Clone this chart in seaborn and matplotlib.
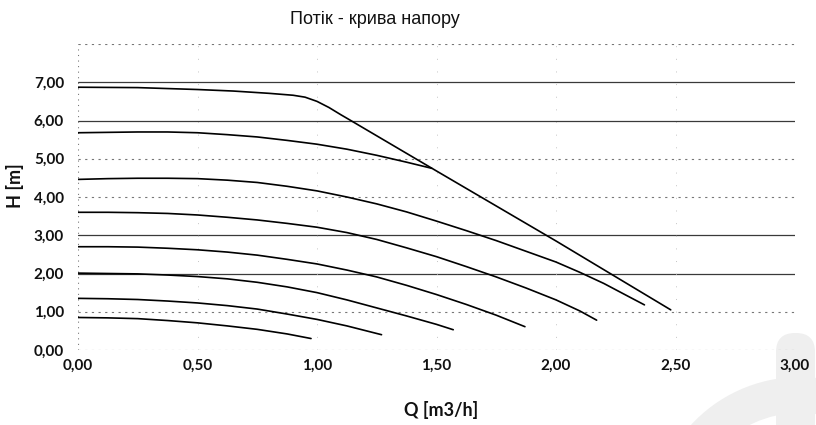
import numpy as np
import pandas as pd
import matplotlib
matplotlib.use("Agg")
import matplotlib.pyplot as plt
import seaborn as sns
from matplotlib.patches import Wedge, FancyBboxPatch

# pump curves (Q in m3/h, H in m)
q1 = [0.0, 0.25, 0.5, 0.65, 0.8, 0.9, 0.95, 1.0, 1.05, 1.1, 1.133, 1.5, 2.0, 2.48]
h1 = [6.87, 6.86, 6.81, 6.77, 6.71, 6.66, 6.61, 6.50, 6.34, 6.15, 6.03, 4.68, 2.85, 1.05]
q2 = [0.0, 0.125, 0.25, 0.375, 0.5, 0.625, 0.75, 0.875, 1.0, 1.125, 1.25, 1.375, 1.48]
h2 = [5.68, 5.69, 5.70, 5.70, 5.68, 5.63, 5.57, 5.48, 5.38, 5.25, 5.09, 4.91, 4.75]
q3 = [0.0, 0.125, 0.25, 0.375, 0.5, 0.625, 0.75, 0.875, 1.0, 1.125, 1.25, 1.375,
      1.5, 1.625, 1.75, 1.875, 2.0, 2.1, 2.2, 2.3, 2.37]
h3 = [4.46, 4.48, 4.49, 4.49, 4.48, 4.44, 4.38, 4.28, 4.16, 4.00, 3.82, 3.61,
      3.37, 3.12, 2.86, 2.58, 2.30, 2.03, 1.74, 1.41, 1.18]
q4 = [0.0, 0.125, 0.25, 0.375, 0.5, 0.625, 0.75, 0.875, 1.0, 1.125, 1.25, 1.375,
      1.5, 1.625, 1.75, 1.875, 2.0, 2.1, 2.17]
h4 = [3.60, 3.60, 3.59, 3.57, 3.53, 3.47, 3.40, 3.31, 3.21, 3.07, 2.89, 2.67,
      2.44, 2.18, 1.91, 1.62, 1.31, 1.02, 0.78]
q5 = [0.0, 0.125, 0.25, 0.375, 0.5, 0.625, 0.75, 0.875, 1.0, 1.125, 1.25, 1.375,
      1.5, 1.625, 1.75, 1.87]
h5 = [2.70, 2.70, 2.69, 2.66, 2.62, 2.56, 2.48, 2.37, 2.25, 2.09, 1.91, 1.69,
      1.45, 1.19, 0.91, 0.61]
q6 = [0.0, 0.125, 0.25, 0.375, 0.5, 0.625, 0.75, 0.875, 1.0, 1.125, 1.25, 1.375, 1.5, 1.57]
h6 = [2.01, 2.00, 1.99, 1.96, 1.92, 1.86, 1.77, 1.65, 1.50, 1.31, 1.10, 0.89, 0.67, 0.53]
q7 = [0.0, 0.125, 0.25, 0.375, 0.5, 0.625, 0.75, 0.875, 1.0, 1.125, 1.27]
h7 = [1.35, 1.34, 1.32, 1.28, 1.23, 1.16, 1.07, 0.94, 0.80, 0.63, 0.40]
q8 = [0.0, 0.125, 0.25, 0.375, 0.5, 0.625, 0.75, 0.875, 0.975]
h8 = [0.85, 0.84, 0.82, 0.77, 0.71, 0.63, 0.54, 0.42, 0.30]

x_ticks = [0.0, 0.5, 1.0, 1.5, 2.0, 2.5, 3.0]
y_ticks = [0, 1, 2, 3, 4, 5, 6, 7]
solid_grid = [2, 3, 6, 7]
dotted_grid = [0, 1, 4, 5, 8]

curves = [(q1, h1), (q2, h2), (q3, h3), (q4, h4),
          (q5, h5), (q6, h6), (q7, h7), (q8, h8)]
frames = []
for i, (q, h) in enumerate(curves):
    frames.append(pd.DataFrame({"Q": q, "H": h, "curve": i}))
df = pd.concat(frames, ignore_index=True)

sns.set_theme(style="white")
plt.rcParams['font.family'] = ['Lato', 'DejaVu Sans']

W, H = 816, 425
fig = plt.figure(figsize=(W / 100, H / 100), dpi=100)

# faint watermark in the lower right corner
bg = fig.add_axes([0, 0, 1, 1], zorder=0)
bg.set_xlim(0, W)
bg.set_ylim(0, H)
bg.axis("off")
bg.add_patch(Wedge((800, -100), 148, 55, 150, width=36, color="#efefef", lw=0))
bg.add_patch(FancyBboxPatch((776, -20), 39, 112, boxstyle="round,pad=0,rounding_size=19",
                            color="#efefef", lw=0))

ax = fig.add_axes([78 / W, 1 - 350 / H, 717 / W, 306 / H], zorder=1)
ax.patch.set_alpha(0)

for v in solid_grid:
    ax.axhline(v, color="#3a3a3a", lw=0.9, zorder=1)
for v in dotted_grid:
    ax.axhline(v, color="#777777", lw=0.8, ls=(0, (2, 4)), zorder=1)
ax.axvline(0, color="#777777", lw=0.8, ls=(0, (1, 4)), zorder=1)
for v in [0.5, 1.0, 1.5, 2.0, 2.5]:
    ax.axvline(v, color="#c4c4c4", lw=0.7, ls=(0, (1, 12)), zorder=1)

sns.lineplot(data=df, x="Q", y="H", units="curve", estimator=None,
             color="black", lw=1.2, ax=ax, zorder=3, sort=False)

ax.set_xlim(0, 3.0)
ax.set_ylim(0, 8)
ax.set_xticks(x_ticks)
ax.set_xticklabels([f"{v:.2f}".replace(".", ",") for v in x_ticks])
ax.set_yticks(y_ticks)
ax.set_yticklabels([f"{v:.2f}".replace(".", ",") for v in y_ticks])
ax.tick_params(axis="x", length=0, pad=6, labelsize=11)
ax.tick_params(axis="y", length=0, pad=10, labelsize=11)
for lab in ax.get_xticklabels() + ax.get_yticklabels():
    lab.set_fontweight("bold")
    lab.set_color("#111111")
for s in ax.spines.values():
    s.set_visible(False)
ax.set_xlabel("")
ax.set_ylabel("")

fig.text(375 / W, 1 - 19 / H, "Потік - крива напору", ha="center", va="center",
         fontsize=13, family=["Liberation Sans", "DejaVu Sans"], color="#111111")
fig.text(15 / W, 1 - 186 / H, "H [m]", rotation=90, ha="center", va="center",
         fontsize=13, fontweight="bold", color="#111111")
fig.text(441 / W, 1 - 410 / H, "Q [m3/h]", ha="center", va="center",
         fontsize=13, fontweight="bold", color="#111111")

fig.savefig("out.png", dpi=100)
